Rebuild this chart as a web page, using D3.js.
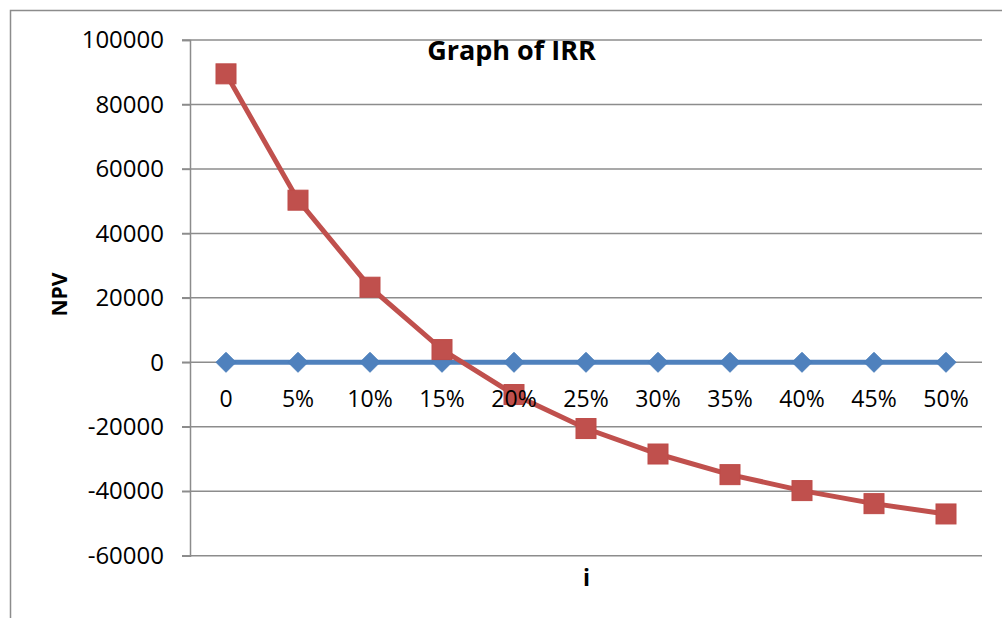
<!DOCTYPE html>
<html>
<head>
<meta charset="utf-8">
<script src="https://cdnjs.cloudflare.com/ajax/libs/d3/7.8.5/d3.min.js"></script>
<style>
  body { margin: 0; background: #fff; }
  text { font-family: "Open Sans", "Liberation Sans", sans-serif; }
</style>
</head>
<body>
<div id="chart"></div>
<script>
// data
var categories = ["0", "5%", "10%", "15%", "20%", "25%", "30%", "35%", "40%", "45%", "50%"]
var npvValues = [89500, 50300, 23300, 3950, -10000, -20550, -28450, -34850, -39800, -43850, -47050]
var zeroValues = [0, 0, 0, 0, 0, 0, 0, 0, 0, 0, 0]
var yTicks = [100000, 80000, 60000, 40000, 20000, 0, -20000, -40000, -60000]

var screen = {width: 1002, height: 618}
var plot = {left: 190, right: 982, top: 40, bottom: 555.7}

var svg = d3.select("#chart").append("svg")
  .attr("width", screen.width)
  .attr("height", screen.height)

// outer frame
svg.append("rect")
  .attr("x", 10.5).attr("y", 10.5)
  .attr("width", 1100).attr("height", 700)
  .style("fill", "none")
  .style("stroke", "#8c8c8c")
  .style("stroke-width", 1.5)

// scales
var xScale = d3.scaleBand()
  .domain(categories)
  .range([plot.left, plot.right])
var yScale = d3.scaleLinear()
  .domain([-60000, 100000])
  .range([plot.bottom, plot.top])

// gridlines
svg.append("g")
  .selectAll("line")
  .data(yTicks)
  .enter()
  .append("line")
  .attr("x1", plot.left - 8)
  .attr("x2", plot.right)
  .attr("y1", function(d) { return yScale(d) })
  .attr("y2", function(d) { return yScale(d) })
  .style("stroke", "#8c8c8c")
  .style("stroke-width", 1.5)

// y axis
var yAxis = d3.axisLeft(yScale).tickValues(yTicks).tickSize(8).tickPadding(18).tickFormat(d3.format("d"))
var gy = svg.append("g")
  .attr("transform", "translate(" + plot.left + ",0)")
  .call(yAxis)
gy.select(".domain").style("stroke", "#8c8c8c").style("stroke-width", 1.5)
gy.selectAll(".tick line").style("stroke", "#8c8c8c").style("stroke-width", 1.5)
gy.selectAll(".tick text")
  .style("font-size", "24px")
  .style("fill", "#000")
  .text(function(d) { return d < 0 ? "-" + Math.abs(d) : d })

// lines
var drawLine = function(vals) {
  return d3.line()
    .x(function(d, i) { return xScale(categories[i]) + xScale.bandwidth() / 2 })
    .y(function(d) { return yScale(d) })(vals)
}

svg.append("path")
  .attr("d", drawLine(zeroValues))
  .style("fill", "none")
  .style("stroke", "#4f81bd")
  .style("stroke-width", 5)

svg.selectAll(".diamond")
  .data(zeroValues)
  .enter()
  .append("path")
  .attr("class", "diamond")
  .attr("d", "M0,-10L10,0L0,10L-10,0Z")
  .attr("transform", function(d, i) {
    return "translate(" + (xScale(categories[i]) + xScale.bandwidth() / 2) + "," + yScale(d) + ")"
  })
  .style("fill", "#4f81bd")
  .style("stroke", "#4a7ebb")

svg.append("path")
  .attr("d", drawLine(npvValues))
  .style("fill", "none")
  .style("stroke", "#c0504d")
  .style("stroke-width", 5)

svg.selectAll(".square")
  .data(npvValues)
  .enter()
  .append("rect")
  .attr("class", "square")
  .attr("x", function(d, i) { return xScale(categories[i]) + xScale.bandwidth() / 2 - 10 })
  .attr("y", function(d) { return yScale(d) - 10 })
  .attr("width", 20)
  .attr("height", 20)
  .style("fill", "#c0504d")
  .style("stroke", "#be4b48")

// x labels under zero line (drawn on top of the series)
var gx = svg.append("g")
  .attr("transform", "translate(0," + yScale(0) + ")")
  .call(d3.axisBottom(xScale).tickSize(0).tickPadding(28))
gx.select(".domain").remove()
gx.selectAll(".tick text")
  .style("font-size", "23px")
  .style("fill", "#000")

// titles
svg.append("text")
  .attr("x", 511.5)
  .attr("y", 59.5)
  .attr("text-anchor", "middle")
  .style("font-size", "27px")
  .style("font-weight", "bold")
  .text("Graph of IRR")

svg.append("text")
  .attr("transform", "translate(67,294.5) rotate(-90)")
  .attr("text-anchor", "middle")
  .style("font-size", "21px")
  .style("font-weight", "bold")
  .text("NPV")

svg.append("text")
  .attr("x", 586.5)
  .attr("y", 586)
  .attr("text-anchor", "middle")
  .style("font-size", "23px")
  .style("font-weight", "bold")
  .text("i")
</script>
</body>
</html>
